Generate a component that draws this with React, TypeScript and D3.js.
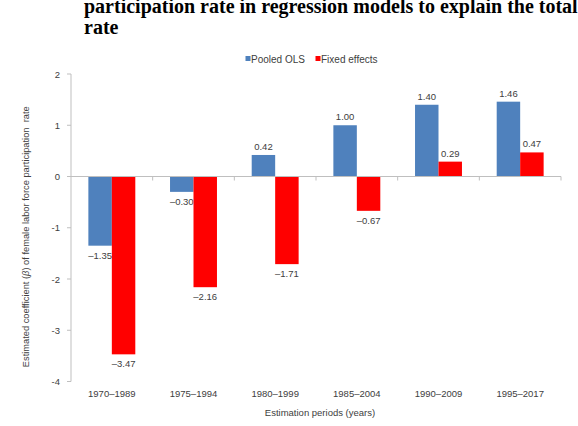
import { useEffect } from 'react';
import * as d3 from 'd3';

const periods = ['1970–1989', '1975–1994', '1980–1999', '1985–2004', '1990–2009', '1995–2017'];
const pooledOls = [-1.35, -0.3, 0.42, 1.0, 1.4, 1.46];
const fixedEffects = [-3.47, -2.16, -1.71, -0.67, 0.29, 0.47];
const yTickValues = [2, 1, 0, -1, -2, -3, -4];
const seriesNames = ['Pooled OLS', 'Fixed effects'];
const seriesColors = ['#4f81bd', '#ff0000'];

const fmt = (v: number) => (v < 0 ? '–' + Math.abs(v).toFixed(2) : v.toFixed(2));

export default function App() {
  useEffect(() => {
    document.body.style.margin = '0';
  }, []);

  const width = 578;
  const height = 426;
  const plot = { left: 71, right: 561, top: 74, bottom: 381.5 };

  const x = d3.scaleBand<string>().domain(periods).range([plot.left, plot.right]).padding(0);
  const inner = d3
    .scaleBand<string>()
    .domain(seriesNames)
    .range([0, x.bandwidth()])
    .paddingInner(0)
    .paddingOuter(0.74);
  const y = d3.scaleLinear().domain([-4, 2]).range([plot.bottom, plot.top]);

  const axisColor = '#bfbfbf';
  const textColor = '#404040';
  const font = 'Arial, "Liberation Sans", sans-serif';
  const series = [pooledOls, fixedEffects];

  return (
    <svg width={width} height={height} style={{ display: 'block', overflow: 'hidden' }}>
      <rect width={width} height={height} fill="#fff" />
      {/* title, cut off at the top and right like the source */}
      <g fontFamily='"Liberation Serif", "Times New Roman", serif' fontWeight="bold" fontSize={20} fill="#000">
        <text x={84} y={12.7}>participation rate in regression models to explain the total</text>
        <text x={84} y={34.3}>rate</text>
      </g>

      {/* legend */}
      <g fontFamily={font} fontSize={10} fill={textColor}>
        {seriesNames.map((name, i) => {
          const lx = i === 0 ? 245.5 : 315.5;
          return (
            <g key={name}>
              <rect x={lx} y={56} width={5} height={5} fill={seriesColors[i]} />
              <text x={lx + 5.5} y={62.5}>{name}</text>
            </g>
          );
        })}
      </g>

      {/* y axis */}
      <line x1={plot.left} x2={plot.left} y1={plot.top} y2={plot.bottom} stroke={axisColor} />
      {yTickValues.map((t) => (
        <g key={t}>
          <line x1={plot.left - 4} x2={plot.left} y1={y(t)} y2={y(t)} stroke={axisColor} />
          <text
            x={plot.left - 11}
            y={y(t) + 3.5}
            textAnchor="end"
            fontFamily={font}
            fontSize={9.5}
            fill={textColor}
          >
            {t}
          </text>
        </g>
      ))}
      <text
        transform={`translate(29,${(plot.top + plot.bottom) / 2 + 9}) rotate(-90)`}
        textAnchor="middle"
        fontFamily={font}
        fontSize={9.3}
        fill={textColor}
        style={{ whiteSpace: 'pre' }}
      >
        Estimated coefficient (<tspan fontStyle="italic">β</tspan>) of female labor force participation  rate
      </text>

      {/* bars */}
      {periods.map((p, i) => (
        <g key={p}>
          {series.map((vals, s) => {
            const v = vals[i];
            const bx = (x(p) ?? 0) + (inner(seriesNames[s]) ?? 0);
            const bw = inner.bandwidth();
            const top = Math.min(y(v), y(0));
            const h = Math.abs(y(v) - y(0));
            return (
              <g key={s}>
                <rect x={bx} y={top} width={bw} height={h} fill={seriesColors[s]} />
                <text
                  x={bx + bw / 2}
                  y={v >= 0 ? y(v) - 5 : y(v) + 13}
                  textAnchor="middle"
                  fontFamily={font}
                  fontSize={9.5}
                  fill={textColor}
                >
                  {fmt(v)}
                </text>
              </g>
            );
          })}
        </g>
      ))}

      {/* zero line with category ticks */}
      <line x1={plot.left} x2={plot.right} y1={y(0)} y2={y(0)} stroke={axisColor} />
      {periods.map((p) => (
        <line
          key={p}
          x1={(x(p) ?? 0) + x.bandwidth()}
          x2={(x(p) ?? 0) + x.bandwidth()}
          y1={y(0)}
          y2={y(0) + 4}
          stroke={axisColor}
        />
      ))}

      {/* category labels */}
      {periods.map((p) => (
        <text
          key={p}
          x={(x(p) ?? 0) + x.bandwidth() / 2}
          y={396.5}
          textAnchor="middle"
          fontFamily={font}
          fontSize={9.5}
          fill={textColor}
        >
          {p}
        </text>
      ))}
      <text
        x={(plot.left + plot.right) / 2 + 4}
        y={416}
        textAnchor="middle"
        fontFamily={font}
        fontSize={9.5}
        fill={textColor}
      >
        Estimation periods (years)
      </text>
    </svg>
  );
}
